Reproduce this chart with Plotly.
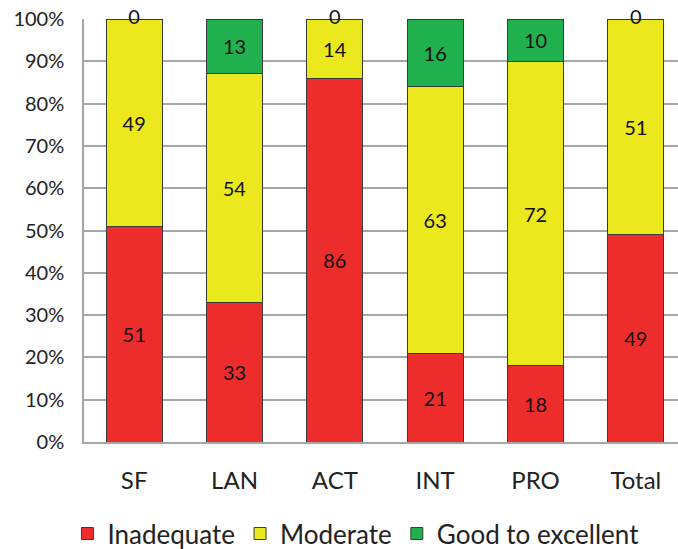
import plotly.graph_objects as go

# Categories and percentage shares per rating level
categories = ["SF", "LAN", "ACT", "INT", "PRO", "Total"]
inadequate = [51, 33, 86, 21, 18, 49]
moderate = [49, 54, 14, 63, 72, 51]
good = [0, 13, 0, 16, 10, 0]

y_ticks = list(range(0, 101, 10))
y_tick_labels = [f"{v}%" for v in y_ticks]

series = [
    ("Inadequate", inadequate, "#EC2D2B"),
    ("Moderate", moderate, "#ECE81E"),
    ("Good to excellent", good, "#21B04E"),
]

FONT = "Lato, 'Open Sans', sans-serif"
LABEL_SIZE = 20

fig = go.Figure()

base = [0] * len(categories)
zero_x, zero_y, zero_txt = [], [], []
for name, vals, color in series:
    fig.add_trace(go.Bar(
        name=name,
        x=categories,
        y=vals,
        marker=dict(color=color, line=dict(color="#3a3a3a", width=1)),
        text=[str(v) if v > 0 else "" for v in vals],
        textposition="inside",
        insidetextanchor="middle",
        textangle=0,
        textfont=dict(family=FONT, size=LABEL_SIZE, color="#111111"),
        width=0.56,
    ))
    for i, v in enumerate(vals):
        if v == 0:
            zero_x.append(categories[i])
            zero_y.append(base[i] + v)
            zero_txt.append(str(v))
    base = [b + v for b, v in zip(base, vals)]

# zero-valued segments: label sits on the stack top
fig.add_trace(go.Scatter(
    x=zero_x, y=zero_y, text=zero_txt, mode="text",
    textposition="middle center",
    textfont=dict(family=FONT, size=LABEL_SIZE, color="#111111"),
    showlegend=False, hoverinfo="skip", cliponaxis=False,
))

fig.update_layout(
    barmode="stack",
    width=678, height=549,
    margin=dict(l=84, r=0, t=19, b=107, autoexpand=False),
    paper_bgcolor="white",
    plot_bgcolor="white",
    font=dict(family=FONT, color="#222222"),
    legend=dict(
        orientation="h",
        xref="container", yref="container",
        x=0.525, xanchor="center",
        y=0.028, yanchor="middle",
        font=dict(family=FONT, size=26, color="#222222"),
        traceorder="normal",
    ),
    showlegend=True,
)

fig.update_xaxes(
    range=[-0.5, 5.42],
    showgrid=False,
    showline=True, linecolor="#a6a6a6", linewidth=1.5,
    tickfont=dict(family=FONT, size=24, color="#222222"),
    ticks="",
    ticklabelstandoff=16,
)
fig.update_yaxes(
    range=[0, 100],
    tickvals=y_ticks,
    ticktext=y_tick_labels,
    showgrid=True, gridcolor="#a6a6a6", gridwidth=1.5,
    showline=True, linecolor="#a6a6a6", linewidth=1.5,
    zeroline=False,
    tickfont=dict(family=FONT, size=20, color="#222222"),
    ticks="",
    ticklabelstandoff=14,
)

fig.write_html("out.html")
